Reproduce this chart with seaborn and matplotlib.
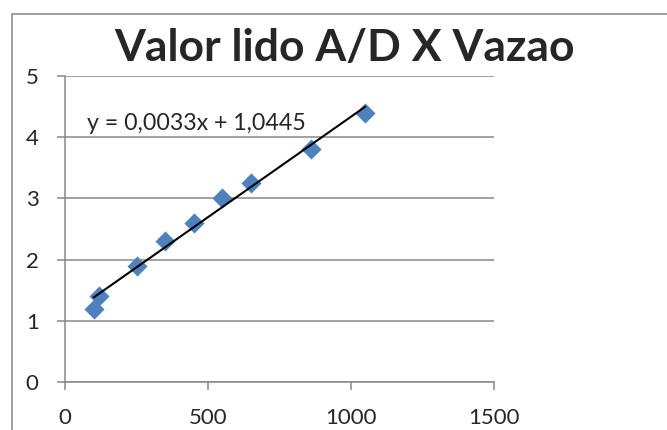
import matplotlib
matplotlib.use("Agg")
import matplotlib.pyplot as plt
import seaborn as sns
from matplotlib.patches import Rectangle

# valores
vazao = [100, 120, 250, 350, 450, 550, 650, 860, 1050]
valor_ad = [1.2, 1.4, 1.9, 2.3, 2.6, 3.0, 3.25, 3.8, 4.4]
equacao = "y = 0,0033x + 1,0445"
x_ticks = [0, 500, 1000, 1500]
y_ticks = [0, 1, 2, 3, 4, 5]

sns.set_style("white")
plt.rcParams["font.family"] = ["Lato", "DejaVu Sans"]

fig = plt.figure(figsize=(6.67, 4.3), dpi=100)
ax = fig.add_axes([65 / 667, 1 - 382 / 430, (494 - 65) / 667, (382 - 76) / 430])

# moldura do grafico (estilo Excel)
fig.patches.append(Rectangle((11.5 / 667, -0.1), 1.0, 1 - 13.5 / 430 + 0.1,
                             transform=fig.transFigure, fill=False,
                             edgecolor="#8c8c8c", linewidth=1.2))

sns.regplot(x=vazao, y=valor_ad, ci=None, scatter=False, truncate=True, ax=ax,
            line_kws={"color": "black", "linewidth": 1.5, "zorder": 4})
sns.scatterplot(x=vazao, y=valor_ad, marker="D", s=105, color="#4F81BD",
                linewidth=0, ax=ax, zorder=3)

ax.set_xlim(0, 1500)
ax.set_ylim(0, 5)
ax.set_xticks(x_ticks)
ax.set_yticks(y_ticks)
ax.grid(axis="y", color="#878787", linewidth=1.1)
ax.set_axisbelow(True)
for s in ["top", "right"]:
    ax.spines[s].set_visible(False)
for s in ["left", "bottom"]:
    ax.spines[s].set_color("#878787")
    ax.spines[s].set_linewidth(1.1)
ax.tick_params(axis="both", which="major", length=6, width=1.1, color="#878787",
               labelsize=16, direction="out", left=True, bottom=True)
ax.tick_params(axis="x", pad=13)
ax.tick_params(axis="y", pad=13)

ax.text(77, 4.23, equacao, fontsize=16.7, va="center", ha="left")
fig.text(345 / 667, 1 - 48 / 430, "Valor lido A/D X Vazao", fontsize=32,
         fontweight="bold", ha="center", va="center")

fig.savefig("out.png", dpi=100)
